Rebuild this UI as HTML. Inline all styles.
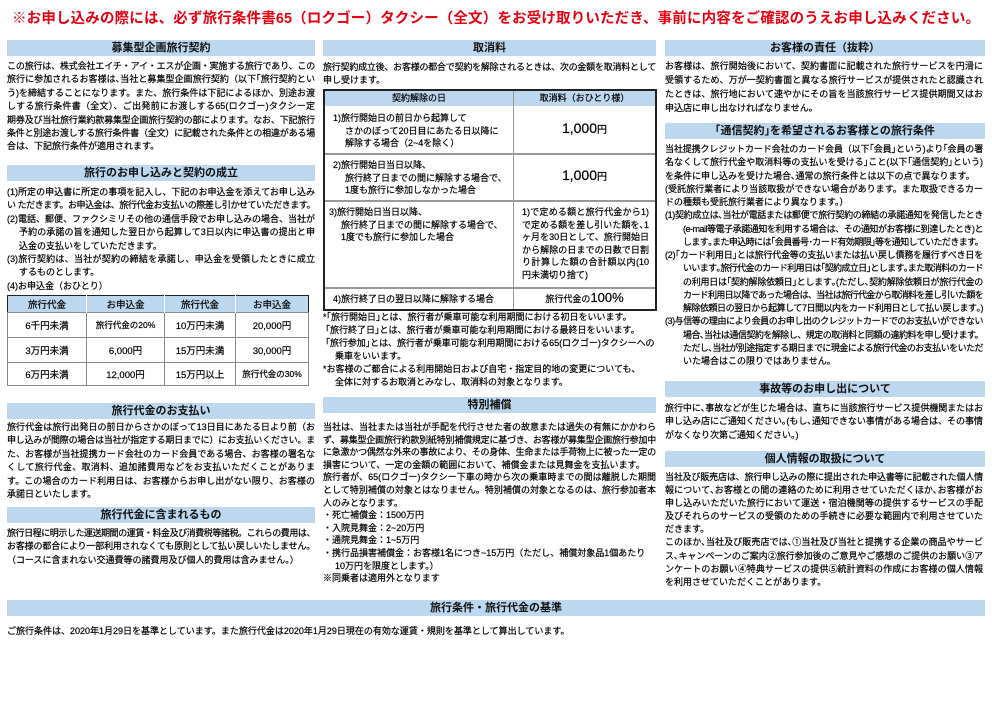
<!DOCTYPE html>
<html><head><meta charset="utf-8">
<style>
*{margin:0;padding:0;box-sizing:border-box}
body{width:992px;height:710px;background:#fff;position:relative;overflow:hidden;font-family:"Liberation Sans","Noto Sans CJK JP",sans-serif;color:#000;font-size:9px;-webkit-text-stroke:0.2px #000}
.a{position:absolute}
.bar{position:absolute;background:#bdd7ee;height:16px;line-height:16px;text-align:center;font-weight:bold;font-size:11px;color:#111;-webkit-text-stroke:0}
.p div{white-space:nowrap;height:13.4px;line-height:13.4px;overflow:visible}
.p .j{text-align:justify;text-align-last:justify}
.i1{padding-left:12px}
.i2{padding-left:18px}
table{border-collapse:collapse;position:absolute}
td,th{font-weight:normal;text-align:center;vertical-align:middle}
</style></head><body>

<div class="a" style="left:12px;top:9px;width:968px;color:#e60012;font-weight:bold;font-size:14.5px;line-height:20px;white-space:nowrap;text-align:justify;text-align-last:justify;-webkit-text-stroke:0">※お申し込みの際には、必ず旅行条件書65（ロクゴー）タクシー（全文）をお受け取りいただき、事前に内容をご確認のうえお申し込みください。</div>

<!-- LEFT -->
<div class="bar" style="left:7px;top:40px;width:308px">募集型企画旅行契約</div>
<div class="a p" style="left:7px;top:60px;width:308px">
<div class="j">この旅行は、株式会社エイチ・アイ・エスが企画・実施する旅行であり、この</div>
<div class="j">旅行に参加されるお客様は､当社と募集型企画旅行契約（以下｢旅行契約とい</div>
<div class="j">う)を締結することになります。また、旅行条件は下記によるほか、別途お渡</div>
<div class="j">しする旅行条件書（全文）、ご出発前にお渡しする65(ロクゴー)タクシー定</div>
<div class="j">期券及び当社旅行業約款募集型企画旅行契約の部によります。なお、下記旅行</div>
<div class="j">条件と別途お渡しする旅行条件書（全文）に記載された条件との相違がある場</div>
<div>合は、下記旅行条件が適用されます。</div>
</div>

<div class="bar" style="left:7px;top:165px;width:308px">旅行のお申し込みと契約の成立</div>
<div class="a p" style="left:7px;top:186px;width:308px">
<div class="j">(1)所定の申込書に所定の事項を記入し、下記のお申込金を添えてお申し込み</div>
<div class="j">い ただきます。お申込金は、旅行代金お支払いの際差し引かせていただきます。</div>
<div class="j">(2)電話、郵便、ファクシミリその他の通信手段でお申し込みの場合、当社が</div>
<div class="j i1">予約の承諾の旨を通知した翌日から起算して3日以内に申込書の提出と申</div>
<div class="i1">込金の支払いをしていただきます。</div>
<div class="j">(3)旅行契約は、当社が契約の締結を承諾し、申込金を受領したときに成立</div>
<div class="i1">するものとします。</div>
<div>(4)お申込金（おひとり）</div>
</div>
<table style="left:7px;top:295px;width:302px;border:1.5px solid #222;font-size:9.5px">
<tr style="height:17px;background:#bdd7ee"><td style="width:79px;border-right:1px solid #fff">旅行代金</td><td style="width:78px;border-right:1px solid #fff">お申込金</td><td style="width:71px;border-right:1px solid #fff">旅行代金</td><td>お申込金</td></tr>
<tr style="height:25px"><td style="border:1px solid #888">6千円未満</td><td style="border:1px solid #888;font-size:8.5px">旅行代金の20%</td><td style="border:1px solid #888">10万円未満</td><td style="border:1px solid #888">20,000円</td></tr>
<tr style="height:25px"><td style="border:1px solid #888">3万円未満</td><td style="border:1px solid #888">6,000円</td><td style="border:1px solid #888">15万円未満</td><td style="border:1px solid #888">30,000円</td></tr>
<tr style="height:23px"><td style="border:1px solid #888">6万円未満</td><td style="border:1px solid #888">12,000円</td><td style="border:1px solid #888">15万円以上</td><td style="border:1px solid #888;font-size:8.5px">旅行代金の30%</td></tr>
</table>

<div class="bar" style="left:7px;top:403px;width:308px">旅行代金のお支払い</div>
<div class="a p" style="left:7px;top:421px;width:308px">
<div class="j">旅行代金は旅行出発日の前日からさかのぼって13日目にあたる日より前（お</div>
<div class="j">申し込みが間際の場合は当社が指定する期日までに）にお支払いください。ま</div>
<div class="j">た、お客様が当社提携カード会社のカード会員である場合、お客様の署名な</div>
<div class="j">くして旅行代金、取消料、追加諸費用などをお支払いただくことがありま</div>
<div class="j">す。この場合のカード利用日は、お客様からお申し出がない限り、お客様の</div>
<div>承諾日といたします。</div>
</div>

<div class="bar" style="left:7px;top:507px;width:308px">旅行代金に含まれるもの</div>
<div class="a p" style="left:7px;top:527px;width:308px">
<div class="j">旅行日程に明示した運送期間の運賃・料金及び消費税等諸税。これらの費用は、</div>
<div class="j">お客様の都合により一部利用されなくても原則として払い戻しいたしません。</div>
<div>（コースに含まれない交通費等の諸費用及び個人的費用は含みません。）</div>
</div>

<!-- MIDDLE -->
<div class="bar" style="left:323px;top:40px;width:333px">取消料</div>
<div class="a p" style="left:323px;top:61px;width:333px">
<div class="j">旅行契約成立後、お客様の都合で契約を解除されるときは、次の金額を取消料として</div>
<div>申し受けます。</div>
</div>
<div class="a" style="left:323px;top:89px;width:334px;height:222px;border:2px solid #222"></div>
<div class="a" style="left:325px;top:91px;width:330px;height:15px;background:#bdd7ee"></div>
<div class="a" style="left:513px;top:91px;width:1px;height:218px;background:#999"></div>
<div class="a" style="left:325px;top:153px;width:330px;height:1.5px;background:#999"></div>
<div class="a" style="left:325px;top:200px;width:330px;height:1.5px;background:#999"></div>
<div class="a" style="left:325px;top:287px;width:330px;height:1.5px;background:#999"></div>
<div class="a" style="left:325px;top:91px;width:188px;height:15px;line-height:15px;text-align:center">契約解除の日</div>
<div class="a" style="left:514px;top:91px;width:141px;height:15px;line-height:15px;text-align:center">取消料（おひとり様）</div>
<div class="a p" style="left:333px;top:112px;width:180px">
<div style="height:12.5px;line-height:12.5px">1)旅行開始日の前日から起算して</div>
<div style="height:12.5px;line-height:12.5px" class="i1">さかのぼって20日目にあたる日以降に</div>
<div style="height:12.5px;line-height:12.5px" class="i1">解除する場合（2~4を除く）</div>
</div>
<div class="a" style="left:514px;top:120px;width:141px;text-align:center;font-size:14px">1,000<span style="font-size:10px">円</span></div>
<div class="a p" style="left:333px;top:159px;width:180px">
<div style="height:12.5px;line-height:12.5px">2)旅行開始日当日以降、</div>
<div style="height:12.5px;line-height:12.5px" class="i1">旅行終了日までの間に解除する場合で、</div>
<div style="height:12.5px;line-height:12.5px" class="i1">1度も旅行に参加しなかった場合</div>
</div>
<div class="a" style="left:514px;top:167px;width:141px;text-align:center;font-size:14px">1,000<span style="font-size:10px">円</span></div>
<div class="a p" style="left:329px;top:206px;width:184px">
<div style="height:12.5px;line-height:12.5px">3)旅行開始日当日以降、</div>
<div style="height:12.5px;line-height:12.5px" class="i1">旅行終了日までの間に解除する場合で、</div>
<div style="height:12.5px;line-height:12.5px" class="i1">1度でも旅行に参加した場合</div>
</div>
<div class="a p" style="left:522px;top:206px;width:127px">
<div style="height:12.5px;line-height:12.5px" class="j">1)で定める額と旅行代金から1)</div>
<div style="height:12.5px;line-height:12.5px" class="j">で定める額を差し引いた額を､1</div>
<div style="height:12.5px;line-height:12.5px" class="j">ヶ月を30日として、旅行開始日</div>
<div style="height:12.5px;line-height:12.5px" class="j">から解除の日までの日数で日割</div>
<div style="height:12.5px;line-height:12.5px" class="j">り計算した額の合計額以内(10</div>
<div style="height:12.5px;line-height:12.5px">円未満切り捨て)</div>
</div>
<div class="a" style="left:333px;top:292px;width:180px;line-height:14px">4)旅行終了日の翌日以降に解除する場合</div>
<div class="a" style="left:514px;top:289px;width:141px;text-align:center;line-height:18px">旅行代金の<span style="font-size:13px">100%</span></div>

<div class="a p" style="left:323px;top:311px;width:333px">
<div style="height:13px;line-height:13px">*｢旅行開始日｣とは、旅行者が乗車可能な利用期間における初日をいいます。</div>
<div style="height:13px;line-height:13px">&nbsp;｢旅行終了日｣とは、旅行者が乗車可能な利用期間における最終日をいいます。</div>
<div style="height:13px;line-height:13px">&nbsp;｢旅行参加｣とは、旅行者が乗車可能な利用期間における65(ロクゴー)タクシーへの</div>
<div style="height:13px;line-height:13px" class="i1">乗車をいいます。</div>
<div style="height:13px;line-height:13px">*お客様のご都合による利用開始日および自宅・指定目的地の変更についても、</div>
<div style="height:13px;line-height:13px" class="i1">全体に対するお取消とみなし、取消料の対象となります。</div>
</div>
<div class="bar" style="left:323px;top:397px;width:333px">特別補償</div>
<div class="a p" style="left:323px;top:421px;width:333px">
<div class="j" style="height:12.6px;line-height:12.6px">当社は、当社または当社が手配を代行させた者の故意または過失の有無にかかわら</div>
<div class="j" style="height:12.6px;line-height:12.6px">ず、募集型企画旅行約款別紙特別補償規定に基づき、お客様が募集型企画旅行参加中</div>
<div class="j" style="height:12.6px;line-height:12.6px">に急激かつ偶然な外来の事故により、その身体、生命または手荷物上に被った一定の</div>
<div style="height:12.6px;line-height:12.6px">損害について、一定の金額の範囲において、補償金または見舞金を支払います。</div>
<div class="j" style="height:12.6px;line-height:12.6px">旅行者が、65(ロクゴー)タクシー下車の時から次の乗車時までの間は離脱した期間</div>
<div class="j" style="height:12.6px;line-height:12.6px">として特別補償の対象とはなりません。特別補償の対象となるのは、旅行参加者本</div>
<div style="height:12.6px;line-height:12.6px">人のみとなります。</div>
<div style="height:12.6px;line-height:12.6px">・死亡補償金：1500万円</div>
<div style="height:12.6px;line-height:12.6px">・入院見舞金：2~20万円</div>
<div style="height:12.6px;line-height:12.6px">・通院見舞金：1~5万円</div>
<div style="height:12.6px;line-height:12.6px">・携行品損害補償金：お客様1名につき~15万円（ただし、補償対象品1個あたり</div>
<div style="height:12.6px;line-height:12.6px" class="i1">10万円を限度とします。）</div>
<div style="height:12.6px;line-height:12.6px">※同乗者は適用外となります</div>
</div>

<!-- RIGHT -->
<div class="bar" style="left:665px;top:40px;width:320px">お客様の責任（抜粋）</div>
<div class="a p" style="left:665px;top:59px;width:318px">
<div class="j" style="height:14px;line-height:14px">お客様は、旅行開始後において、契約書面に記載された旅行サービスを円滑に</div>
<div class="j" style="height:14px;line-height:14px">受領するため、万が一契約書面と異なる旅行サービスが提供されたと認識され</div>
<div class="j" style="height:14px;line-height:14px">たときは、旅行地において速やかにその旨を当該旅行サービス提供期間又はお</div>
<div style="height:14px;line-height:14px">申込店に申し出なければなりません。</div>
</div>
<div class="bar" style="left:665px;top:123px;width:320px">｢通信契約｣を希望されるお客様との旅行条件</div>
<div class="a p" style="left:665px;top:143px;width:318px">
<div class="j" style="height:13.25px;line-height:13.25px">当社提携クレジットカード会社のカード会員（以下｢会員｣という)より｢会員の署</div>
<div class="j" style="height:13.25px;line-height:13.25px">名なくして旅行代金や取消料等の支払いを受ける｣こと(以下｢通信契約｣という)</div>
<div style="height:13.25px;line-height:13.25px">を条件に申し込みを受けた場合､通常の旅行条件とは以下の点で異なります。</div>
<div class="j" style="height:13.25px;line-height:13.25px">(受託旅行業者により当該取扱ができない場合があります。また取扱できるカー</div>
<div style="height:13.25px;line-height:13.25px">ドの種類も受託旅行業者により異なります。）</div>
<div class="j" style="height:13.25px;line-height:13.25px">(1)契約成立は､当社が電話または郵便で旅行契約の締結の承諾通知を発信したとき</div>
<div class="j i2" style="height:13.25px;line-height:13.25px">(e-mail等電子承諾通知を利用する場合は、その通知がお客様に到達したとき)と</div>
<div class="j i2" style="height:13.25px;line-height:13.25px">します｡また申込時には｢会員番号･カード有効期限｣等を通知していただきます。</div>
<div class="j" style="height:13.25px;line-height:13.25px">(2)｢カード利用日｣とは旅行代金等の支払いまたは払い戻し債務を履行すべき日を</div>
<div class="j i2" style="height:13.25px;line-height:13.25px">いいます｡旅行代金のカード利用日は｢契約成立日｣とします｡また取消料のカード</div>
<div class="j i2" style="height:13.25px;line-height:13.25px">の利用日は｢契約解除依頼日｣とします｡(ただし､契約解除依頼日が旅行代金の</div>
<div class="j i2" style="height:13.25px;line-height:13.25px">カード利用日以降であった場合は、当社は旅行代金から取消料を差し引いた額を</div>
<div class="j i2" style="height:13.25px;line-height:13.25px">解除依頼日の翌日から起算して7日間以内をカード利用日として払い戻します｡)</div>
<div class="j" style="height:13.25px;line-height:13.25px">(3)与信等の理由により会員のお申し出のクレジットカードでのお支払いができない</div>
<div class="j i2" style="height:13.25px;line-height:13.25px">場合､当社は通信契約を解除し、規定の取消料と同額の違約料を申し受けます。</div>
<div class="j i2" style="height:13.25px;line-height:13.25px">ただし､当社が別途指定する期日までに現金による旅行代金のお支払いをいただ</div>
<div class="i2" style="height:13.25px;line-height:13.25px">いた場合はこの限りではありません。</div>
</div>
<div class="bar" style="left:665px;top:381px;width:320px">事故等のお申し出について</div>
<div class="a p" style="left:665px;top:402px;width:318px">
<div class="j">旅行中に､事故などが生じた場合は、直ちに当該旅行サービス提供機関またはお</div>
<div class="j">申し込み店にご通知ください｡(もし､通知できない事情がある場合は、その事情</div>
<div>がなくなり次第ご通知ください｡)</div>
</div>
<div class="bar" style="left:665px;top:451px;width:320px">個人情報の取扱について</div>
<div class="a p" style="left:665px;top:471px;width:318px">
<div class="j" style="height:13.1px;line-height:13.1px">当社及び販売店は、旅行申し込みの際に提出された申込書等に記載された個人情</div>
<div class="j" style="height:13.1px;line-height:13.1px">報について､お客様との間の連絡のために利用させていただくほか､お客様がお</div>
<div class="j" style="height:13.1px;line-height:13.1px">申し込みいただいた旅行において運送・宿泊機関等の提供するサービスの手配</div>
<div class="j" style="height:13.1px;line-height:13.1px">及びそれらのサービスの受領のための手続きに必要な範囲内で利用させていた</div>
<div style="height:13.1px;line-height:13.1px">だきます。</div>
<div class="j" style="height:13.1px;line-height:13.1px">このほか､当社及び販売店では､①当社及び当社と提携する企業の商品やサービ</div>
<div class="j" style="height:13.1px;line-height:13.1px">ス､キャンペーンのご案内②旅行参加後のご意見やご感想のご提供のお願い③ア</div>
<div class="j" style="height:13.1px;line-height:13.1px">ンケートのお願い④特典サービスの提供⑤統計資料の作成にお客様の個人情報</div>
<div style="height:13.1px;line-height:13.1px">を利用させていただくことがあります。</div>
</div>

<!-- BOTTOM -->
<div class="bar" style="left:7px;top:600px;width:978px">旅行条件・旅行代金の基準</div>
<div class="a" style="left:7px;top:624px;white-space:nowrap;line-height:14px">ご旅行条件は、2020年1月29日を基準としています。また旅行代金は2020年1月29日現在の有効な運賃・規則を基準として算出しています。</div>

<script>
(function(){
  var els=document.querySelectorAll('.p div');
  for(var i=0;i<els.length;i++){
    var e=els[i];
    var ex=e.scrollWidth-e.clientWidth;
    if(ex>0){
      var n=e.textContent.length;
      e.style.letterSpacing=(-(ex+1)/n)+'px';
      var ex2=e.scrollWidth-e.clientWidth;
      if(ex2>0){e.style.letterSpacing=(-(ex+ex2+2)/n)+'px';}
    }
  }
})();
</script>
</body></html>
